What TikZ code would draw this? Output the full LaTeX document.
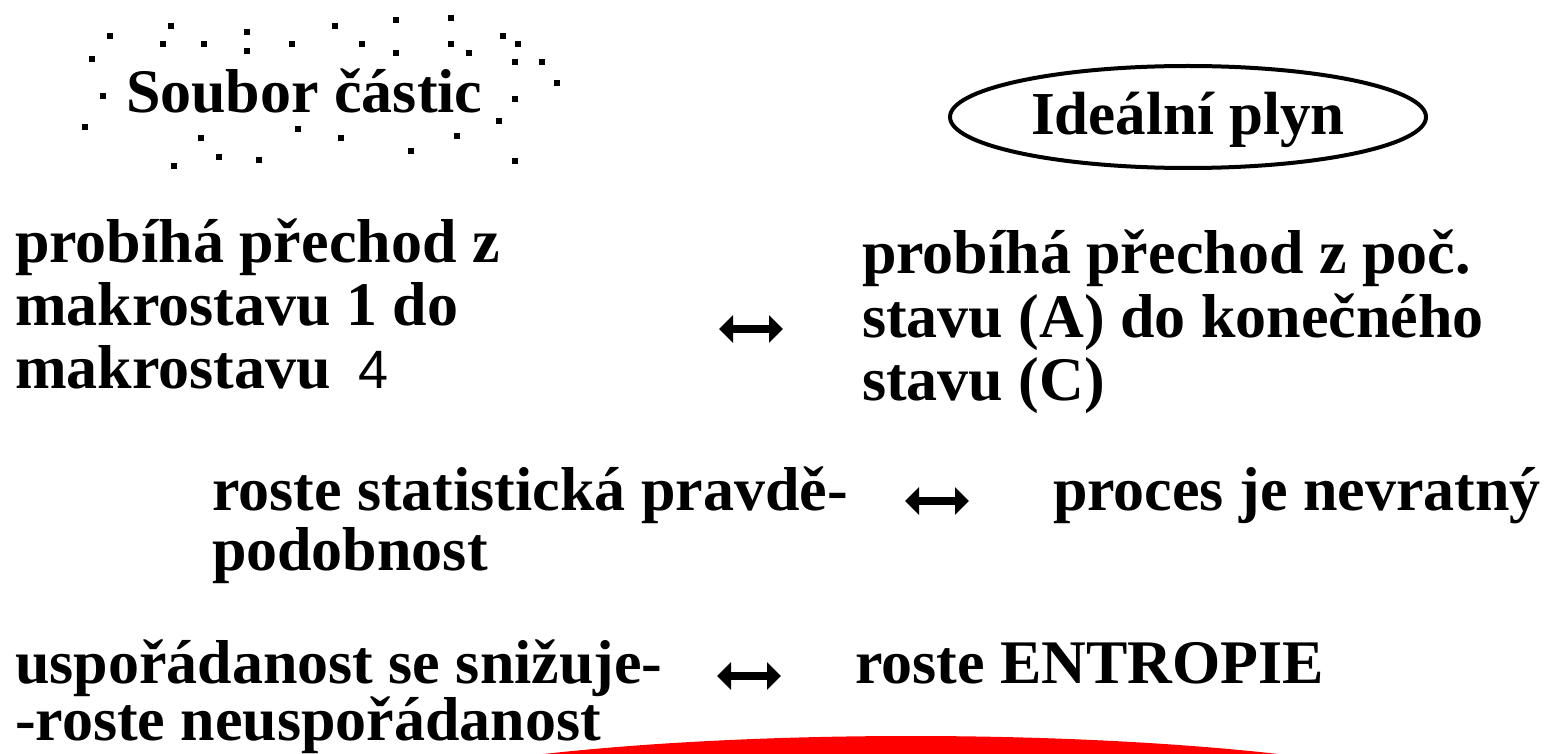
\documentclass[tikz,border=0pt]{standalone}
\usepackage{fontspec}
\setmainfont{Liberation Serif}
\newfontfamily\digitfont{Liberation Sans}
\usetikzlibrary{arrows.meta,shapes.geometric}
\tikzset{
  txt/.style={anchor=base west, inner sep=0pt, outer sep=0pt, font=\fontsize{62}{70}\selectfont\bfseries},
  particle/.style={fill=black},
  biarrow/.style={line width=8pt, {Triangle[width=27pt,length=14pt]}-{Triangle[width=27pt,length=14pt]}},
}
\begin{document}
\begin{tikzpicture}[x=1pt,y=-1pt]
\useasboundingbox (0,0) rectangle (1552,754);
\fill[white] (0,0) rectangle (1552,754);
% red shape at bottom
\begin{scope}
\clip (0,0) rectangle (1552,754);
\fill[red] (911,822) ellipse [x radius=600, y radius=86];
\end{scope}
% particles
\foreach \px/\py in {171/26,110/36,163/44,204/44,247/32,247/51,292/44,335/26,362/44,396/20,396/53,451/18,451/44,469/53,503/36,518/44,515/62,542/62,557/83,515/99,499/121,457/136,411/151,341/138,298/129,259/160,219/157,201/138,174/166,515/161,92/59,103/96,85/127}
  \fill[particle] (\px-3,\py-3) rectangle ++(6,6);
\node[txt] (soubor) at (126,113) {Soubor částic};
% ellipse
\node[ellipse, draw, line width=4pt, minimum width=476pt, minimum height=102pt, inner sep=0pt,
      text height=50pt, text depth=14pt, font=\fontsize{61}{70}\selectfont\bfseries] (ideal) at (1188,117) {Ideální plyn};
% row A
\node[txt] (la1) at (15,262) {probíhá přechod z};
\node[txt] (la2) at (15,325) {makrostavu 1 do};
\node[txt] (la3) at (15,388) {makrostavu\hspace{28pt}{\digitfont\mdseries\fontsize{54}{60}\selectfont 4}};
\node[txt] (ra1) at (862,273) {probíhá přechod z poč.};
\node[txt] (ra2) at (862,337) {stavu (A) do konečného};
\node[txt] (ra3) at (862,400) {stavu (C)};
\coordinate (a1l) at (719,329);
\coordinate (a1r) at (783,329);
\draw[biarrow] (a1l) -- (a1r);
% row B
\node[txt] (lb1) at (212,510) {roste statistická pravdě-};
\node[txt] (lb2) at (212,570) {podobnost};
\node[txt] (rb1) at (1053,510) {proces je nevratný};
\coordinate (a2l) at (905,501);
\coordinate (a2r) at (969,501);
\draw[biarrow] (a2l) -- (a2r);
% row C
\node[txt] (lc1) at (15,683) {uspořádanost se snižuje-};
\node[txt] (lc2) at (15,740) {-roste neuspořádanost};
\node[txt] (rc1) at (855,683) {roste ENTROPIE};
\coordinate (a3l) at (717,676);
\coordinate (a3r) at (781,676);
\draw[biarrow] (a3l) -- (a3r);
\end{tikzpicture}
\end{document}
